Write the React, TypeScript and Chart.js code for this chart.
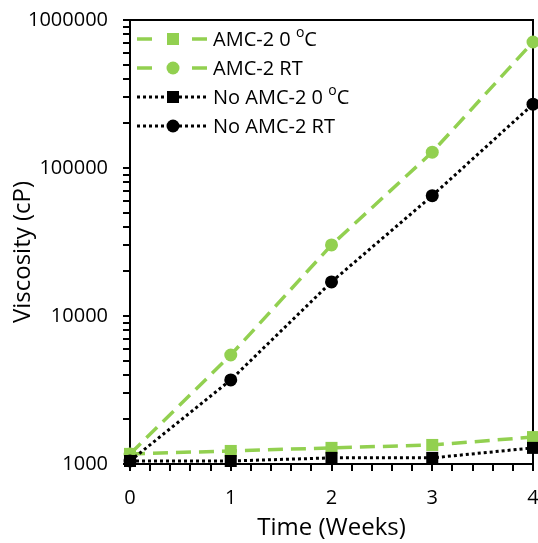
import { useEffect, useRef } from 'react';
import { Chart, registerables } from 'chart.js';

Chart.register(...registerables);

// ---- data ----
const weeks = [0, 1, 2, 3, 4];
const amc2Cold = [1170, 1225, 1285, 1345, 1520];
const amc2RT = [1170, 5450, 30200, 128000, 710000];
const noAmc2Cold = [1048, 1048, 1100, 1100, 1285];
const noAmc2RT = [1048, 3700, 17000, 65000, 270000];
const seriesLabels = ['AMC-2 0 ^oC', 'AMC-2 RT', 'No AMC-2 0 ^oC', 'No AMC-2 RT'];

// ---- ticks ----
const xMajorTicks = [0, 1, 2, 3, 4];
const xMinorPerUnit = 5;
const yMajorTicks = [1000, 10000, 100000, 1000000];
const yMinorMultipliers = [2, 3, 4, 5, 6, 7, 8, 9];

const GREEN = '#92D050';
const BLACK = '#000000';
const FONT = "'Open Sans', sans-serif";
const TICK_LEN = 7;

function buildXTicks() {
  const out: number[] = [];
  for (let i = 0; i < xMajorTicks.length; i++) {
    out.push(xMajorTicks[i]);
    if (i < xMajorTicks.length - 1) {
      for (let k = 1; k < xMinorPerUnit; k++) {
        out.push(xMajorTicks[i] + (k * (xMajorTicks[i + 1] - xMajorTicks[i])) / xMinorPerUnit);
      }
    }
  }
  return out;
}
function buildYTicks() {
  const out: number[] = [];
  for (let i = 0; i < yMajorTicks.length; i++) {
    out.push(yMajorTicks[i]);
    if (i < yMajorTicks.length - 1) {
      yMinorMultipliers.forEach((m) => out.push(yMajorTicks[i] * m));
    }
  }
  return out;
}
const X_TICKS = buildXTicks();
const Y_TICKS = buildYTicks();

const toPoints = (arr: number[]) => weeks.map((w, i) => ({ x: w, y: arr[i] }));

// small images used as point styles for the outward tick marks
function makeTickImage(w: number, h: number, fx: number, fy: number, fw: number, fh: number) {
  const c = document.createElement('canvas');
  c.width = w;
  c.height = h;
  const g = c.getContext('2d');
  if (g) {
    g.fillStyle = BLACK;
    g.fillRect(fx, fy, fw, fh);
  }
  return c;
}

// frame under the markers
const framePlugin = {
  id: 'frame',
  beforeDatasetsDraw(chart: any) {
    const { ctx, chartArea } = chart;
    ctx.save();
    ctx.strokeStyle = BLACK;
    ctx.lineWidth = 2;
    ctx.setLineDash([]);
    ctx.strokeRect(chartArea.left, chartArea.top, chartArea.right - chartArea.left, chartArea.bottom - chartArea.top);
    ctx.restore();
  },
};

function drawMarker(ctx: CanvasRenderingContext2D, style: string, x: number, y: number, r: number, color: string) {
  ctx.fillStyle = color;
  ctx.beginPath();
  if (style === 'rect') {
    const s = r / Math.SQRT2;
    ctx.rect(x - s, y - s, 2 * s, 2 * s);
  } else {
    ctx.arc(x, y, r, 0, Math.PI * 2);
  }
  ctx.fill();
}

const legendPlugin = {
  id: 'customLegend',
  afterDraw(chart: any) {
    const { ctx, chartArea } = chart;
    const left = chartArea.left;
    const top = chartArea.top;
    ctx.save();
    chart.data.datasets.slice(0, seriesLabels.length).forEach((ds: any, i: number) => {
      const y = top + 19 + i * 29;
      const x0 = left + 7;
      const x1 = left + 77;
      const xm = left + 43;
      ctx.strokeStyle = ds.borderColor;
      ctx.lineWidth = ds.borderWidth;
      if (ds.borderColor === GREEN) {
        ctx.setLineDash([]);
        ctx.beginPath();
        ctx.moveTo(x0, y);
        ctx.lineTo(x0 + 15, y);
        ctx.moveTo(x1 - 15, y);
        ctx.lineTo(x1, y);
        ctx.stroke();
      } else {
        ctx.setLineDash(ds.borderDash);
        ctx.beginPath();
        ctx.moveTo(x0, y);
        ctx.lineTo(x1, y);
        ctx.stroke();
        ctx.setLineDash([]);
      }
      drawMarker(ctx, ds.pointStyle, xm, y, ds.pointRadius, ds.pointBackgroundColor);
      const label: string = seriesLabels[i];
      const parts = label.split('^');
      let tx = left + 83;
      ctx.fillStyle = '#000';
      ctx.textBaseline = 'middle';
      ctx.textAlign = 'left';
      ctx.font = `20px ${FONT}`;
      ctx.fillText(parts[0], tx, y + 1);
      tx += ctx.measureText(parts[0]).width;
      if (parts.length > 1) {
        const sup = parts[1].charAt(0);
        const rest = parts[1].slice(1);
        ctx.font = `14px ${FONT}`;
        ctx.fillText(sup, tx, y - 6);
        tx += ctx.measureText(sup).width;
        ctx.font = `20px ${FONT}`;
        ctx.fillText(rest, tx, y + 1);
      }
    });
    ctx.restore();
  },
};

const yTitlePlugin = {
  id: 'yTitle',
  afterDraw(chart: any) {
    const { ctx, chartArea } = chart;
    ctx.save();
    ctx.translate(23, (chartArea.top + chartArea.bottom) / 2 + 10);
    ctx.rotate(-Math.PI / 2);
    ctx.font = `24px ${FONT}`;
    ctx.fillStyle = '#000';
    ctx.textAlign = 'center';
    ctx.textBaseline = 'middle';
    ctx.fillText('Viscosity (cP)', 0, 0);
    ctx.restore();
  },
};

export default function App() {
  const ref = useRef<HTMLCanvasElement | null>(null);
  useEffect(() => {
    if (!ref.current) return;
    const xTickImg = makeTickImage(2, TICK_LEN * 2, 0, TICK_LEN, 2, TICK_LEN);
    const yTickImg = makeTickImage(TICK_LEN * 2, 2, 0, 0, TICK_LEN, 2);
    const series = (label: string, arr: number[], color: string, style: string, dashed: boolean) => ({
      label,
      data: toPoints(arr),
      borderColor: color,
      backgroundColor: color,
      borderWidth: dashed ? 3.5 : 3,
      borderDash: dashed ? [15, 8] : [3, 3],
      pointStyle: style,
      pointRadius: style === 'rect' ? 8.5 : 6.5,
      pointBackgroundColor: color,
      pointBorderColor: color,
      pointBorderWidth: 0,
      order: color === BLACK ? 0 : 1,
      clip: false,
    });
    const chart = new Chart(ref.current, {
      type: 'line',
      data: {
        datasets: [
          series('AMC-2 0 °C', amc2Cold, GREEN, 'rect', true),
          series('AMC-2 RT', amc2RT, GREEN, 'circle', true),
          series('No AMC-2 0 °C', noAmc2Cold, BLACK, 'rect', false),
          series('No AMC-2 RT', noAmc2RT, BLACK, 'circle', false),
          {
            label: 'x tick marks',
            data: X_TICKS.map((v) => ({ x: v, y: yMajorTicks[0] })),
            showLine: false,
            pointStyle: xTickImg,
            pointRadius: 7,
            order: 5,
            clip: false,
          },
          {
            label: 'y tick marks',
            data: Y_TICKS.map((v) => ({ x: xMajorTicks[0], y: v })),
            showLine: false,
            pointStyle: yTickImg,
            pointRadius: 7,
            order: 5,
            clip: false,
          },
        ] as any,
      },
      options: {
        responsive: false,
        animation: false,
        layout: { autoPadding: false, padding: { top: 20, right: 5, left: 0, bottom: 0 } },
        plugins: { legend: { display: false }, tooltip: { enabled: false }, title: { display: false } },
        scales: {
          x: {
            type: 'linear',
            min: 0,
            max: 4,
            afterBuildTicks: (s: any) => {
              s.ticks = X_TICKS.map((v) => ({ value: v }));
            },
            afterFit: (s: any) => {
              s.height = 79;
              s.paddingLeft = 0;
              s.paddingRight = 0;
            },
            ticks: {
              autoSkip: false,
              maxRotation: 0,
              padding: 15,
              color: '#000',
              font: { family: FONT, size: 20 },
              callback: (v: any) => (Math.abs(v - Math.round(v)) < 1e-9 ? String(Math.round(v)) : ''),
            },
            grid: { display: true, drawOnChartArea: false, drawTicks: true, tickLength: TICK_LEN, color: BLACK, lineWidth: 2 },
            border: { display: false },
            title: {
              display: true,
              text: 'Time (Weeks)',
              color: '#000',
              font: { family: FONT, size: 24 },
              padding: { top: 0, bottom: 0 },
            },
          },
          y: {
            type: 'logarithmic',
            min: 1000,
            max: 1000000,
            afterBuildTicks: (s: any) => {
              s.ticks = Y_TICKS.map((v) => ({ value: v, major: yMajorTicks.includes(v) }));
            },
            afterFit: (s: any) => {
              s.width = 130;
              s.paddingTop = 0;
              s.paddingBottom = 0;
            },
            ticks: {
              autoSkip: false,
              padding: 15,
              color: '#000',
              font: { family: FONT, size: 20 },
              callback: (v: any) => (yMajorTicks.includes(Number(v)) ? String(v) : ''),
            },
            grid: { display: true, drawOnChartArea: false, drawTicks: true, tickLength: TICK_LEN, color: BLACK, lineWidth: 2 },
            border: { display: false },
          },
        },
      } as any,
      plugins: [framePlugin, legendPlugin, yTitlePlugin],
    });
    return () => chart.destroy();
  }, []);
  return (
    <canvas
      ref={ref}
      width={538}
      height={543}
      style={{ position: 'absolute', left: 0, top: 0, display: 'block' }}
    />
  );
}
